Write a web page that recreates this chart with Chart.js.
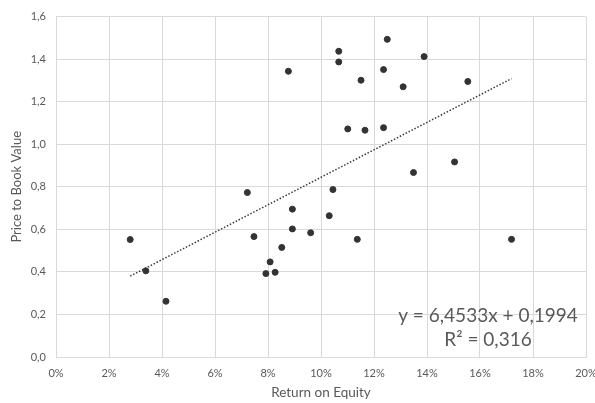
<!DOCTYPE html>
<html>
<head>
<meta charset="utf-8">
<script src="https://cdn.jsdelivr.net/npm/chart.js@4"></script>
<style>
  html, body { margin: 0; padding: 0; background: #fff; }
  #wrap { width: 595px; height: 403px; }
</style>
</head>
<body>
<div id="wrap"><canvas id="chart"></canvas></div>
<script>
// データ（ROE と PBR）
const roe = [0.0280, 0.0339, 0.0415, 0.0722, 0.0747, 0.0792, 0.0808, 0.0827, 0.0852, 0.0892,
             0.0892, 0.0961, 0.1031, 0.1045, 0.1137, 0.1719, 0.0877, 0.1067, 0.1067, 0.1250,
             0.1389, 0.1236, 0.1151, 0.1310, 0.1554, 0.1101, 0.1166, 0.1236, 0.1349, 0.1504];
const pbr = [0.552, 0.405, 0.262, 0.773, 0.566, 0.392, 0.447, 0.398, 0.515, 0.695,
             0.602, 0.584, 0.664, 0.787, 0.553, 0.553, 1.343, 1.437, 1.387, 1.493,
             1.412, 1.351, 1.301, 1.270, 1.295, 1.072, 1.066, 1.078, 0.867, 0.917];
const slope = 6.4533;
const intercept = 0.1994;
const eqLines = ["y = 6,4533x + 0,1994", "R² = 0,316"];

const points = roe.map((x, i) => ({ x: x, y: pbr[i] }));
const xMin = Math.min(...roe);
const xMax = Math.max(...roe);
const trend = [
  { x: xMin, y: slope * xMin + intercept },
  { x: xMax, y: slope * xMax + intercept },
];

const gray = "#595959";
const fontFam = "Lato, 'Open Sans', sans-serif";

// 近似式のテキスト
const eqPlugin = {
  id: "eqText",
  afterDatasetsDraw(chart) {
    const c = chart.ctx;
    c.save();
    c.fillStyle = gray;
    c.font = "19px " + fontFam;
    c.textAlign = "center";
    c.textBaseline = "middle";
    c.fillText(eqLines[0], 488, 316);
    c.fillText(eqLines[1], 488, 340);
    c.restore();
  },
};

new Chart(document.getElementById("chart"), {
  type: "scatter",
  data: {
    datasets: [
      {
        data: points,
        backgroundColor: "#333333",
        borderColor: "#333333",
        pointRadius: 3,
        pointHoverRadius: 3,
      },
      {
        type: "line",
        data: trend,
        borderColor: "#3a3a3a",
        borderWidth: 1.5,
        borderDash: [1.5, 1.8],
        pointRadius: 0,
        fill: false,
      },
    ],
  },
  options: {
    responsive: true,
    maintainAspectRatio: false,
    animation: false,
    layout: { padding: { top: 15, right: 9, bottom: 0, left: 0 } },
    plugins: { legend: { display: false }, tooltip: { enabled: false } },
    scales: {
      x: {
        type: "linear",
        min: 0,
        max: 0.2,
        afterFit: (s) => { s.height = 46; s.paddingRight = 0; s.paddingLeft = 0; },
        grid: { color: "#d9d9d9", drawTicks: false },
        border: { color: "#d9d9d9" },
        ticks: {
          stepSize: 0.02,
          padding: 10,
          color: gray,
          font: { family: fontFam, size: 11 },
          callback: (v) => Math.round(v * 100) + "%",
        },
        title: {
          display: true,
          text: "Return on Equity",
          color: gray,
          font: { family: fontFam, size: 13.5 },
          padding: { top: 0, bottom: 2 },
        },
      },
      y: {
        min: 0,
        max: 1.6,
        afterFit: (s) => { s.width = 56; },
        grid: { color: "#d9d9d9", drawTicks: false },
        border: { color: "#d9d9d9" },
        ticks: {
          stepSize: 0.2,
          padding: 10,
          color: gray,
          font: { family: fontFam, size: 11 },
          callback: (v) => v.toFixed(1).replace(".", ","),
        },
        title: {
          display: true,
          text: "Price to Book Value",
          color: gray,
          font: { family: fontFam, size: 13 },
          padding: { top: 9, bottom: 0 },
        },
      },
    },
  },
  plugins: [eqPlugin],
});
</script>
</body>
</html>
